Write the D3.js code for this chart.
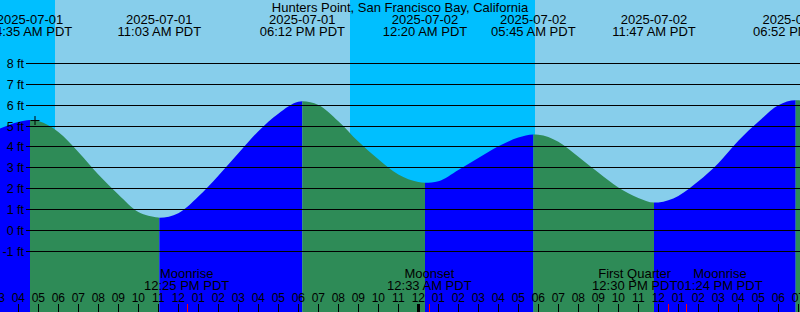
<!DOCTYPE html>
<html>
<head>
<meta charset="utf-8">
<script src="https://cdn.jsdelivr.net/npm/d3@7"></script>
<style>
  body { margin: 0; background: #fff; }
  svg { display: block; }
  text { font-family: "Liberation Sans", Arial, sans-serif; fill: #000; }
</style>
</head>
<body>
<div id="chart"></div>
<script>
// station
var title = "Hunters Point, San Francisco Bay, California";

// hourly tide heights (ft)
var hourTimes = [
  "2025-07-01 03:00","2025-07-01 04:00","2025-07-01 05:00","2025-07-01 06:00","2025-07-01 07:00",
  "2025-07-01 08:00","2025-07-01 09:00","2025-07-01 10:00","2025-07-01 11:00","2025-07-01 12:00",
  "2025-07-01 13:00","2025-07-01 14:00","2025-07-01 15:00","2025-07-01 16:00","2025-07-01 17:00",
  "2025-07-01 18:00","2025-07-01 19:00","2025-07-01 20:00","2025-07-01 21:00","2025-07-01 22:00",
  "2025-07-01 23:00","2025-07-02 00:00","2025-07-02 01:00","2025-07-02 02:00","2025-07-02 03:00",
  "2025-07-02 04:00","2025-07-02 05:00","2025-07-02 06:00","2025-07-02 07:00","2025-07-02 08:00",
  "2025-07-02 09:00","2025-07-02 10:00","2025-07-02 11:00","2025-07-02 12:00","2025-07-02 13:00",
  "2025-07-02 14:00","2025-07-02 15:00","2025-07-02 16:00","2025-07-02 17:00","2025-07-02 18:00",
  "2025-07-02 19:00","2025-07-02 20:00"
];
var hourHeights = [
  4.85, 5.2, 5.25, 4.72, 3.76,
  2.68, 1.72, 0.88, 0.61, 0.82,
  1.62, 2.62, 3.7, 4.76, 5.6,
  6.17, 6.02, 5.24, 4.26, 3.41,
  2.68, 2.32, 2.36, 2.9, 3.47,
  4.03, 4.45, 4.59, 4.25, 3.53,
  2.77, 2.05, 1.55, 1.34, 1.65,
  2.35, 3.22, 4.3, 5.21, 6.01,
  6.24, 6.1
];

// high / low tides
var extremeTimes = ["2025-07-01 04:35","2025-07-01 11:03","2025-07-01 18:12","2025-07-02 00:20",
                    "2025-07-02 05:45","2025-07-02 11:47","2025-07-02 18:52"];
var extremeHeights = [5.3, 0.6, 6.2, 2.28, 4.6, 1.33, 6.25];

// sun and moon
var nightStarts = ["2025-07-01 03:05","2025-07-01 20:35"];
var nightEnds   = ["2025-07-01 05:50","2025-07-02 05:50"];
var moonTimes = ["2025-07-01 12:25","2025-07-02 00:33","2025-07-02 12:30","2025-07-02 13:24"];
var moonNames = ["Moonrise","Moonset","First Quarter","Moonrise"];

// "now" marker
var markTime = "2025-07-01 04:50";
var markHeight = 5.27;

var yTicks = [-1, 0, 1, 2, 3, 4, 5, 6, 7, 8];
var viewStart = "2025-07-01 03:05", viewEnd = "2025-07-02 19:05";

var width = 800, height = 312;
var parse = d3.timeParse("%Y-%m-%d %H:%M");
var fmtDate = d3.timeFormat("%Y-%m-%d");
var fmtTime = d3.timeFormat("%I:%M %p PDT");

var colors = {day: "#87CEEB", night: "#00BFFF", fall: "#2E8B57", rise: "#0000FF"};

var x = d3.scaleTime()
    .domain([parse(viewStart), parse(viewEnd)])
    .range([0, width]);
var y = d3.scaleLinear()
    .domain([-1, 8])
    .range([251.1, 63.7]);

var svg = d3.select("#chart").append("svg")
    .attr("width", width)
    .attr("height", height);

// sky
svg.append("rect").attr("width", width).attr("height", height).attr("fill", colors.day);
svg.selectAll(".night")
    .data(nightStarts)
    .enter().append("rect")
    .attr("class", "night")
    .attr("x", function(d) { return x(parse(d)); })
    .attr("width", function(d, i) { return x(parse(nightEnds[i])) - x(parse(d)); })
    .attr("y", 0)
    .attr("height", height)
    .attr("fill", colors.night);

// tide series = hourly points + extremes
var tide = hourTimes.map(function(d, i) { return {t: parse(d), v: hourHeights[i]}; })
  .concat(extremeTimes.map(function(d, i) { return {t: parse(d), v: extremeHeights[i]}; }))
  .sort(function(a, b) { return a.t - b.t; });

var area = d3.area()
    .x(function(d) { return x(d.t); })
    .y0(height)
    .y1(function(d) { return y(d.v); })
    .curve(d3.curveMonotoneX);

// segments between extremes, green falling, blue rising
var edges = [parse(viewStart)].concat(extremeTimes.map(parse)).concat([parse(viewEnd)]);
var defs = svg.append("defs");
for (var i = 0; i < edges.length - 1; i++) {
  var rising;
  if (i < extremeHeights.length) {
    rising = (i == 0) ? extremeHeights[0] > extremeHeights[1] : extremeHeights[i] > extremeHeights[i - 1];
  } else {
    rising = extremeHeights[i - 1] < extremeHeights[i - 2];
  }
  defs.append("clipPath").attr("id", "seg" + i)
    .append("rect")
    .attr("x", x(edges[i]))
    .attr("width", x(edges[i + 1]) - x(edges[i]))
    .attr("y", 0)
    .attr("height", height);
  svg.append("path")
    .datum(tide)
    .attr("d", area)
    .attr("clip-path", "url(#seg" + i + ")")
    .attr("fill", rising ? colors.rise : colors.fall);
}

// grid lines and labels
svg.selectAll(".grid")
    .data(yTicks)
    .enter().append("line")
    .attr("class", "grid")
    .attr("x1", 26).attr("x2", width)
    .attr("y1", function(d) { return Math.floor(y(d)) + 0.5; })
    .attr("y2", function(d) { return Math.floor(y(d)) + 0.5; })
    .attr("stroke", "#000")
    .attr("stroke-width", 1);

svg.selectAll(".ylab")
    .data(yTicks)
    .enter().append("text")
    .attr("class", "ylab")
    .attr("x", 24)
    .attr("y", function(d) { return y(d) + 4.5; })
    .attr("text-anchor", "end")
    .style("font-size", "12.5px")
    .text(function(d) { return d + " ft"; });

// "now" marker
var mx = x(parse(markTime)), my = y(markHeight);
svg.append("path")
    .attr("d", "M" + (mx - 4.5) + "," + my + "H" + (mx + 4.5) + "M" + mx + "," + (my - 4.5) + "V" + (my + 4.5))
    .attr("stroke", "#000")
    .attr("stroke-width", 1);

// title and extreme labels
svg.append("text")
    .attr("x", width / 2).attr("y", 12)
    .attr("text-anchor", "middle")
    .style("font-size", "13px")
    .text(title);

var ext = svg.selectAll(".ext")
    .data(extremeTimes)
    .enter().append("g")
    .attr("class", "ext")
    .attr("transform", function(d) { return "translate(" + x(parse(d)) + ",0)"; });
ext.append("text")
    .attr("y", 24)
    .attr("text-anchor", "middle")
    .style("font-size", "13px")
    .text(function(d) { return fmtDate(parse(d)); });
ext.append("text")
    .attr("y", 36)
    .attr("text-anchor", "middle")
    .style("font-size", "13px")
    .text(function(d) { return fmtTime(parse(d)); });

// moon events
var moon = svg.selectAll(".moon")
    .data(moonTimes)
    .enter().append("g")
    .attr("class", "moon");
moon.append("text")
    .attr("y", 278)
    .attr("text-anchor", "middle")
    .style("font-size", "13px")
    .text(function(d, i) { return moonNames[i]; });
moon.append("text")
    .attr("y", 290)
    .attr("text-anchor", "middle")
    .style("font-size", "13px")
    .text(function(d) { return fmtTime(parse(d)); });

// push apart labels that would collide
var boxes = [];
moon.each(function(d) {
  var w = 0;
  d3.select(this).selectAll("text").each(function() { w = Math.max(w, this.getComputedTextLength()); });
  boxes.push({c: x(parse(d)), w: w});
});
for (var k = 1; k < boxes.length; k++) {
  var a = boxes[k - 1], b = boxes[k];
  var overlap = (a.c + a.w / 2) - (b.c - b.w / 2);
  if (overlap > 0) { a.c -= overlap / 2; b.c += overlap / 2; }
}
moon.attr("transform", function(d, i) { return "translate(" + boxes[i].c + ",0)"; });

// hour ticks
var hours = d3.timeHour.range(d3.timeHour.floor(parse(viewStart)), parse(viewEnd));
svg.selectAll(".tick")
    .data(hours)
    .enter().append("line")
    .attr("class", "tick")
    .attr("x1", function(d) { return Math.round(x(d)) + 0.5; })
    .attr("x2", function(d) { return Math.round(x(d)) + 0.5; })
    .attr("y1", 304).attr("y2", height)
    .attr("stroke", "#000")
    .attr("stroke-width", function(d) { return d.getHours() == 0 ? 3 : 1; });
svg.selectAll(".mtick")
    .data(moonTimes)
    .enter().append("line")
    .attr("class", "mtick")
    .attr("x1", function(d) { return Math.round(x(parse(d))) + 0.5; })
    .attr("x2", function(d) { return Math.round(x(parse(d))) + 0.5; })
    .attr("y1", 304).attr("y2", height)
    .attr("stroke", "#f00")
    .attr("stroke-width", 1);
svg.selectAll(".tlab")
    .data(hours)
    .enter().append("text")
    .attr("class", "tlab")
    .attr("x", function(d) { return x(d); })
    .attr("y", 302)
    .attr("text-anchor", "middle")
    .style("font-size", "12px")
    .text(d3.timeFormat("%I"));
</script>
</body>
</html>
